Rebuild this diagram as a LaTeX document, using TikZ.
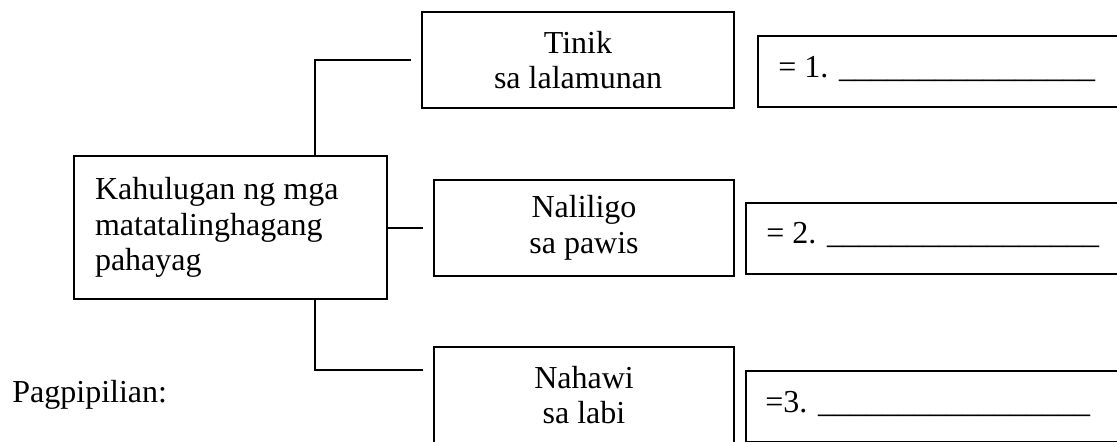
\documentclass[tikz,border=0pt]{standalone}
\usepackage{fontspec}
\setmainfont{Liberation Serif}
\begin{document}
\begin{tikzpicture}[x=0.5pt,y=-0.5pt,
  every node/.style={font=\fontsize{16}{17.75}\selectfont},
  box/.style={draw,line width=1pt,inner sep=0pt,align=center},
  ans/.style={draw,line width=1.1pt,inner sep=0pt},
  conn/.style={line width=1pt}]
\useasboundingbox (0,0) rectangle (1117,441);
\clip (0,0) rectangle (1117,441);
% main box
\node[box,minimum width=156.5pt,minimum height=71.5pt,text width=135.5pt,align=flush left] (main) at (230.5,227.5)
  {Kahulugan ng mga\\matatalinghagang\\pahayag};
% middle boxes
\node[box,minimum width=156pt,minimum height=48pt] (b1) at (578,60) {Tinik\\sa lalamunan};
\node[box,minimum width=150pt,minimum height=48pt] (b2) at (584,228) {Naliligo\\sa pawis};
\node[box,minimum width=150pt,minimum height=48pt] (b3) at (584,395) {Nahawi\\sa labi};
% answer boxes
\node[ans,minimum width=191pt,minimum height=35.5pt] (r1) at (949,71.5) {};
\node[ans,minimum width=197pt,minimum height=35.5pt] (r2) at (943,238.5) {};
\node[ans,minimum width=197pt,minimum height=35.5pt] (r3) at (943,406.5) {};
\node[anchor=base west,inner sep=0pt] (t1) at (778,77) {= 1. \_\_\_\_\_\_\_\_\_\_\_\_\_\_\_\_};
\node[anchor=base west,inner sep=0pt] (t2) at (766,243) {= 2. \_\_\_\_\_\_\_\_\_\_\_\_\_\_\_\_\_};
\node[anchor=base west,inner sep=0pt] (t3) at (765,412) {=3. \_\_\_\_\_\_\_\_\_\_\_\_\_\_\_\_\_};
% label
\node[anchor=base west,inner sep=0pt] (pag) at (12,402) {Pagpipilian:};
% connectors
\coordinate (j1) at (315,60);
\coordinate (c1) at (411,60);
\coordinate (c2) at (423,227.5);
\coordinate (j3) at (315,370);
\coordinate (c3) at (423,370);
\draw[conn] (main.north -| j1) -- (j1) -- (c1);
\draw[conn] (main.east) -- (c2);
\draw[conn] (main.south -| j3) -- (j3) -- (c3);
\end{tikzpicture}
\end{document}
